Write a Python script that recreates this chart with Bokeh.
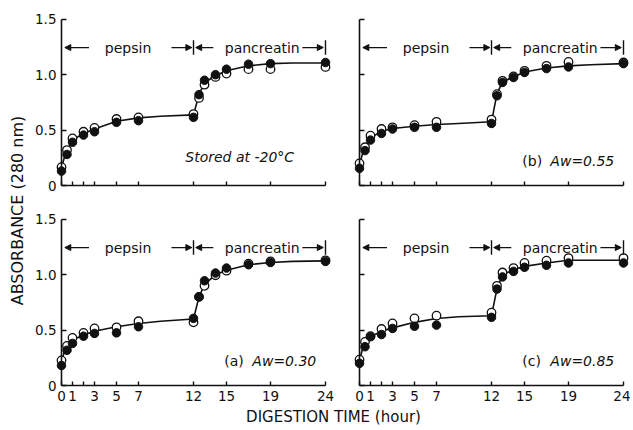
from math import pi
from bokeh.plotting import figure
from bokeh.models import Range1d, LinearAxis, FixedTicker, Label, Arrow, NormalHead
from bokeh.embed import file_html
from bokeh.resources import INLINE

# ---------------- data ----------------
hours = [0, 0.5, 1, 2, 3, 5, 7, 12, 12.5, 13, 14, 15, 17, 19, 24]
curve_hours = [0, 0.25, 0.5, 1, 2, 3, 5, 7, 9, 12, 12.5, 13, 14, 15, 17, 19, 21, 24]

# Stored at -20 C
filled_m20 = [0.13, 0.28, 0.39, 0.455, 0.485, 0.57, 0.585, 0.615, 0.82, 0.95, 1.00, 1.05, 1.095, 1.10, 1.11]
open_m20 = [0.165, 0.32, 0.425, 0.485, 0.52, 0.60, 0.615, 0.645, 0.79, 0.91, 0.98, 1.01, 1.05, 1.05, 1.07]
curve_m20 = [0.16, 0.25, 0.31, 0.41, 0.47, 0.51, 0.58, 0.61, 0.625, 0.637, 0.82, 0.93, 0.99, 1.035, 1.08, 1.10, 1.105, 1.105]

# (b) Aw = 0.55
filled_b = [0.155, 0.315, 0.41, 0.47, 0.51, 0.525, 0.525, 0.56, 0.81, 0.93, 0.975, 1.02, 1.055, 1.07, 1.10]
open_b = [0.20, 0.345, 0.45, 0.51, 0.525, 0.545, 0.575, 0.595, 0.825, 0.945, 0.985, 1.035, 1.08, 1.115, 1.11]
curve_b = [0.18, 0.28, 0.34, 0.43, 0.49, 0.515, 0.535, 0.55, 0.56, 0.575, 0.83, 0.935, 0.98, 1.025, 1.06, 1.08, 1.09, 1.10]

# (a) Aw = 0.30
filled_a = [0.18, 0.318, 0.38, 0.445, 0.47, 0.475, 0.53, 0.606, 0.80, 0.945, 1.015, 1.06, 1.09, 1.11, 1.12]
open_a = [0.227, 0.357, 0.43, 0.475, 0.515, 0.525, 0.58, 0.57, 0.80, 0.90, 0.995, 1.036, 1.10, 1.12, 1.13]
curve_a = [0.22, 0.30, 0.35, 0.41, 0.455, 0.49, 0.53, 0.56, 0.58, 0.60, 0.80, 0.91, 1.0, 1.04, 1.09, 1.11, 1.12, 1.125]

# (c) Aw = 0.85
filled_c = [0.20, 0.35, 0.44, 0.46, 0.515, 0.535, 0.545, 0.615, 0.87, 0.98, 1.03, 1.067, 1.085, 1.106, 1.106]
open_c = [0.233, 0.394, 0.445, 0.51, 0.56, 0.606, 0.63, 0.657, 0.90, 1.02, 1.06, 1.106, 1.127, 1.15, 1.15]
curve_c = [0.23, 0.32, 0.38, 0.44, 0.49, 0.52, 0.57, 0.605, 0.62, 0.63, 0.875, 1.0, 1.045, 1.075, 1.105, 1.13, 1.13, 1.13]

x_ticks = [0, 1, 2, 3, 5, 7, 12, 15, 19, 24]
y_ticks = [0, 0.5, 1.0, 1.5]
y_tick_labels = {0: "0", 0.5: "0.5", 1.0: "1.0", 1.5: "1.5"}

# ---------------- layout ----------------
W, H = 630, 428
SX, SY = 11.0, 110.8
FONT = "DejaVu Sans"
INK = "#111111"

p = figure(width=W, height=H, x_range=Range1d(0, W), y_range=Range1d(0, H),
           x_axis_location=None, y_axis_location=None, toolbar_location=None,
           tools="", output_backend="svg", min_border=0, outline_line_color=None)
p.xgrid.visible = False
p.ygrid.visible = False
p.background_fill_color = "white"
p.border_fill_color = "white"

panels = [
    # name, axis x (px), axis y (px from top), filled, open, curve, tag, aw, show x labels, show y labels
    ("tl", 61, 185, filled_m20, open_m20, curve_m20, None, None, False, True),
    ("tr", 359, 185, filled_b, open_b, curve_b, "(b)", "Aw=0.55", False, False),
    ("bl", 61, 385, filled_a, open_a, curve_a, "(a)", "Aw=0.30", True, True),
    ("br", 359, 385, filled_c, open_c, curve_c, "(c)", "Aw=0.85", True, False),
]

xr, yr = {}, {}
for name, ax, ay, *_ in panels:
    xr[name + "_x"] = Range1d(-ax / SX, (W - ax) / SX)
    yr[name + "_y"] = Range1d((ay - H) / SY, ay / SY)
p.extra_x_ranges = xr
p.extra_y_ranges = yr

for name, ax, ay, fil, opn, crv, tag, aw, showx, showy in panels:
    xn, yn = name + "_x", name + "_y"
    rk = dict(x_range_name=xn, y_range_name=yn)

    xaxis = LinearAxis(fixed_location=0, bounds=(0, 24), ticker=FixedTicker(ticks=x_ticks),
                       major_tick_in=4, major_tick_out=0, minor_tick_line_color=None,
                       axis_line_color=INK, axis_line_width=1.6, major_tick_line_color=INK,
                       major_tick_line_width=1.4, major_label_standoff=5,
                       major_label_text_font=FONT, major_label_text_font_size="13.5px",
                       major_label_text_color=INK, **rk)
    if showx:
        xaxis.major_label_overrides = {2: ""}
    else:
        xaxis.major_label_overrides = {t: "" for t in x_ticks}
    p.add_layout(xaxis, "below")

    yaxis = LinearAxis(fixed_location=0, bounds=(0, 1.5), ticker=FixedTicker(ticks=y_ticks),
                       major_tick_in=5, major_tick_out=0, minor_tick_line_color=None,
                       axis_line_color=INK, axis_line_width=1.6, major_tick_line_color=INK,
                       major_tick_line_width=1.4, major_label_standoff=5,
                       major_label_text_font=FONT, major_label_text_font_size="13.5px",
                       major_label_text_color=INK, **rk)
    if showy:
        yaxis.major_label_overrides = dict(y_tick_labels)
    else:
        yaxis.major_label_overrides = {t: "" for t in y_ticks}
    p.add_layout(yaxis, "left")

    # fitted curve and data points
    p.line(curve_hours, crv, line_color=INK, line_width=1.6, **rk)
    p.scatter(hours, opn, size=8.5, marker="circle", fill_color="white",
              line_color=INK, line_width=1.3, **rk)
    p.scatter(hours, fil, size=8.5, marker="circle", fill_color=INK,
              line_color=INK, line_width=1, **rk)

    # digestion-phase brackets
    ya = 1.245
    head = dict(size=6, fill_color=INK, line_color=INK, line_width=1)
    for xs, xe in [(2.5, 0.3), (10.0, 11.85), (13.8, 12.2), (21.9, 23.8)]:
        p.add_layout(Arrow(end=NormalHead(**head), x_start=xs, y_start=ya, x_end=xe, y_end=ya,
                           line_color=INK, line_width=1.3, **rk))
    p.segment(x0=[12, 24], y0=[1.18, 1.18], x1=[12, 24], y1=[1.31, 1.31],
              line_color=INK, line_width=1.4, **rk)
    p.add_layout(Label(x=6.05, y=ya, text="pepsin", text_align="center", text_baseline="middle",
                       text_font=FONT, text_font_size="14px", text_color=INK, **rk))
    p.add_layout(Label(x=18.25, y=ya, text="pancreatin", text_align="center", text_baseline="middle",
                       text_font=FONT, text_font_size="14px", text_color=INK, **rk))

    if tag is None:
        p.add_layout(Label(x=16.2, y=0.26, text="Stored at -20°C", text_align="center",
                           text_baseline="middle", text_font=FONT, text_font_size="14px",
                           text_font_style="italic", text_color=INK, **rk))
    else:
        p.add_layout(Label(x=14.8, y=0.225, text=tag, text_align="left", text_baseline="middle",
                           text_font=FONT, text_font_size="14px", text_color=INK, **rk))
        p.add_layout(Label(x=17.35, y=0.225, text=aw, text_align="left", text_baseline="middle",
                           text_font=FONT, text_font_size="14px", text_font_style="italic",
                           text_color=INK, **rk))

# axis titles shared by all panels
p.add_layout(Label(x=333, y=H - 416, text="DIGESTION TIME (hour)", text_align="center",
                   text_baseline="middle", text_font=FONT, text_font_size="15px", text_color=INK))
p.add_layout(Label(x=17, y=H - 210, text="ABSORBANCE (280 nm)", angle=pi / 2, text_align="center",
                   text_baseline="middle", text_font=FONT, text_font_size="16px", text_color=INK))

open("out.html", "w").write(file_html(p, INLINE))
